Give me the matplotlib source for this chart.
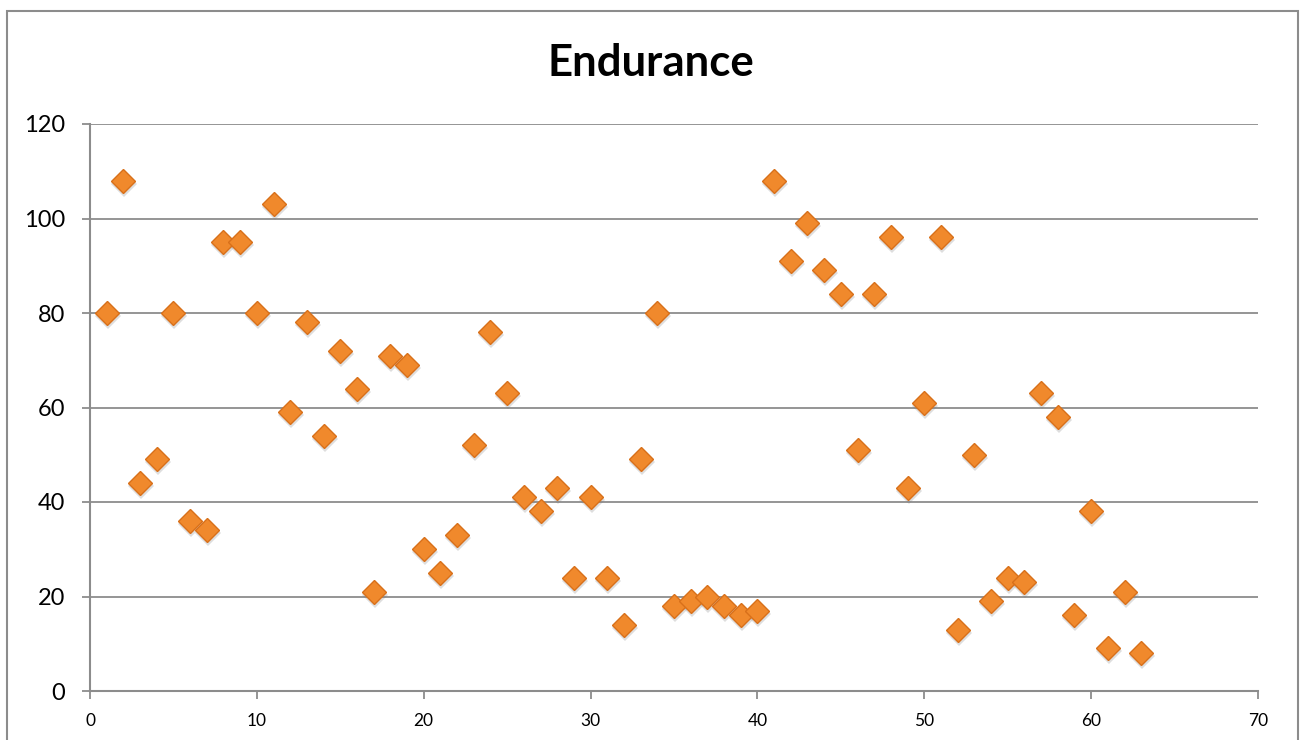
import matplotlib
matplotlib.use("Agg")
import matplotlib.pyplot as plt
from matplotlib.patches import Rectangle
from matplotlib import transforms

# trial number and endurance score
trial = list(range(1, 64))
endurance = [80, 108, 44, 49, 80, 36, 34, 95, 95, 80,
             103, 59, 78, 54, 72, 64, 21, 71, 69, 30,
             25, 33, 52, 76, 63, 41, 38, 43, 24, 41,
             24, 14, 49, 80, 18, 19, 20, 18, 16, 17,
             108, 91, 99, 89, 84, 51, 84, 96, 43, 61,
             96, 13, 50, 19, 24, 23, 63, 58, 16, 38,
             9, 21, 8]

x_ticks = [0, 10, 20, 30, 40, 50, 60, 70]
y_ticks = [0, 20, 40, 60, 80, 100, 120]

plt.rcParams['font.family'] = ['Lato', 'DejaVu Sans']

fig = plt.figure(figsize=(13.01, 7.40), dpi=100)
ax = fig.add_axes([90 / 1301, 1 - 691 / 740, (1258 - 90) / 1301, (691 - 124) / 740])

# chart frame around the whole plot area
fig.patches.append(Rectangle((7 / 1301, -0.2), (1298 - 7) / 1301, 1.2 - 11 / 740,
                             transform=fig.transFigure, fill=False,
                             edgecolor='#8c8c8c', linewidth=1.5, zorder=0))

grid_c = '#8c8c8c'
ax.set_xlim(0, 70)
ax.set_ylim(0, 120)
ax.set_xticks(x_ticks)
ax.set_yticks(y_ticks)
ax.yaxis.grid(True, color=grid_c, linewidth=1.3)
ax.set_axisbelow(True)
for side in ['top', 'right']:
    ax.spines[side].set_visible(False)
for side in ['left', 'bottom']:
    ax.spines[side].set_color(grid_c)
    ax.spines[side].set_linewidth(1.5)
ax.tick_params(axis='y', direction='out', length=6, width=1.3, color=grid_c,
               labelsize=17, pad=12)
ax.tick_params(axis='x', direction='out', length=6, width=1.3, color=grid_c,
               labelsize=12.5, pad=10)

# soft drop shadow under each diamond
shadow = transforms.offset_copy(ax.transData, fig=fig, x=1, y=-3, units='dots')
ax.plot(trial, endurance, linestyle='none', marker='D', markersize=13.5,
        color='#7f7f7f', alpha=0.25, markeredgewidth=0, transform=shadow,
        clip_on=False, zorder=2)
ax.plot(trial, endurance, linestyle='none', marker='D', markersize=12,
        markerfacecolor='#f0892c', markeredgecolor='#d8701a',
        markeredgewidth=1.0, clip_on=False, zorder=3)

fig.text(0.5, 1 - 63 / 740, 'Endurance', ha='center', va='center',
         fontsize=31.5, fontweight='bold')

fig.savefig('out.png', dpi=100)
